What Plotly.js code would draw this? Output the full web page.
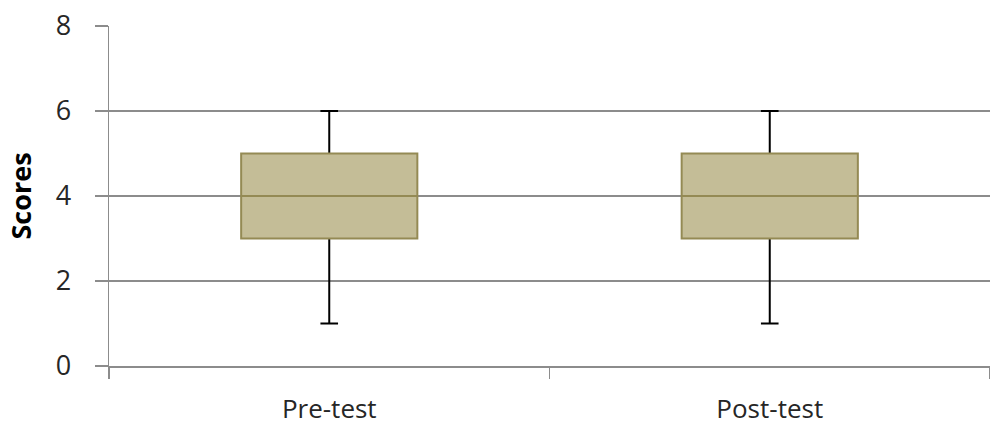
<!DOCTYPE html>
<html>
<head>
<meta charset="utf-8">
<script src="https://cdn.plot.ly/plotly-3.0.1.min.js"></script>
<style>html,body{margin:0;padding:0;background:#fff;}#chart{width:990px;height:428px;}</style>
</head>
<body>
<div id="chart"></div>
<script>
const categories = ['Pre-test', 'Post-test'];
const q1Values = [3, 3];
const medianValues = [4, 4];
const q3Values = [5, 5];
const lowerWhisker = [1, 1];
const upperWhisker = [6, 6];
const yTickValues = [0, 2, 4, 6, 8];

const FONT = 'Open Sans, Noto Sans, sans-serif';

// Whiskers (black), drawn first; their degenerate box is hidden by the olive box on top
const whiskers = {
  type: 'box',
  x: categories,
  q1: medianValues,
  median: medianValues,
  q3: medianValues,
  lowerfence: lowerWhisker,
  upperfence: upperWhisker,
  width: 0.4,
  whiskerwidth: 0.1,
  boxpoints: false,
  fillcolor: 'rgba(0,0,0,0)',
  line: {color: '#000000', width: 2},
  hoverinfo: 'skip',
  showlegend: false
};

const boxes = {
  type: 'box',
  x: categories,
  q1: q1Values,
  median: medianValues,
  q3: q3Values,
  lowerfence: q1Values,
  upperfence: q3Values,
  width: 0.4,
  whiskerwidth: 0,
  boxpoints: false,
  fillcolor: '#C4BD97',
  line: {color: '#948A54', width: 2},
  hoverinfo: 'skip',
  showlegend: false
};

const layout = {
  width: 990,
  height: 428,
  margin: {l: 109, r: 0, t: 26, b: 62},
  paper_bgcolor: '#ffffff',
  plot_bgcolor: '#ffffff',
  boxmode: 'overlay',
  showlegend: false,
  font: {family: FONT, color: '#262626'},
  xaxis: {
    type: 'category',
    range: [-0.5, 1.5],
    showgrid: false,
    showline: true,
    linecolor: '#8c8c8c',
    linewidth: 1.5,
    ticks: 'outside',
    tickson: 'boundaries',
    ticklen: 11,
    tickwidth: 1.5,
    tickcolor: '#8c8c8c',
    tickfont: {family: FONT, size: 26, color: '#262626'},
    ticklabelstandoff: 19,
    zeroline: false
  },
  yaxis: {
    range: [0, 8],
    tickvals: yTickValues,
    ticktext: yTickValues.map(String),
    showgrid: true,
    gridcolor: '#8c8c8c',
    gridwidth: 1.5,
    showline: true,
    linecolor: '#8c8c8c',
    linewidth: 1.5,
    ticks: 'outside',
    ticklen: 13,
    tickwidth: 1.5,
    tickcolor: '#8c8c8c',
    tickfont: {family: FONT, size: 27, color: '#262626'},
    ticklabelstandoff: 18,
    zeroline: false,
    title: {text: '<b>Scores</b>', font: {family: FONT, size: 27, color: '#000000'}, standoff: 16}
  }
};

Plotly.newPlot('chart', [whiskers, boxes], layout, {staticPlot: true, displayModeBar: false});
</script>
</body>
</html>
